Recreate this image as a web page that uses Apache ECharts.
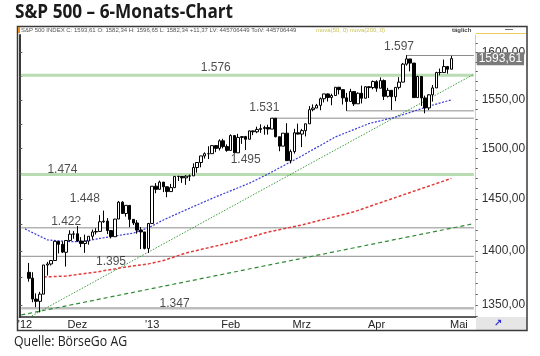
<!DOCTYPE html>
<html><head><meta charset="utf-8">
<script src="https://cdn.jsdelivr.net/npm/echarts@6/dist/echarts.min.js"></script>
<style>html,body{margin:0;padding:0;background:#fff}#c{width:540px;height:356px}</style>
</head><body><div id="c"></div>
<script>
// ---------- DATA ----------
const dates = ['2012-11-09','2012-11-12','2012-11-13','2012-11-14','2012-11-15','2012-11-16','2012-11-19','2012-11-20','2012-11-21','2012-11-23','2012-11-26','2012-11-27','2012-11-28','2012-11-29','2012-11-30',
'2012-12-03','2012-12-04','2012-12-05','2012-12-06','2012-12-07','2012-12-10','2012-12-11','2012-12-12','2012-12-13','2012-12-14','2012-12-17','2012-12-18','2012-12-19','2012-12-20','2012-12-21','2012-12-24','2012-12-26','2012-12-27','2012-12-28','2012-12-31',
'2013-01-02','2013-01-03','2013-01-04','2013-01-07','2013-01-08','2013-01-09','2013-01-10','2013-01-11','2013-01-14','2013-01-15','2013-01-16','2013-01-17','2013-01-18','2013-01-22','2013-01-23','2013-01-24','2013-01-25','2013-01-28','2013-01-29','2013-01-30','2013-01-31',
'2013-02-01','2013-02-04','2013-02-05','2013-02-06','2013-02-07','2013-02-08','2013-02-11','2013-02-12','2013-02-13','2013-02-14','2013-02-15','2013-02-19','2013-02-20','2013-02-21','2013-02-22','2013-02-25','2013-02-26','2013-02-27','2013-02-28',
'2013-03-01','2013-03-04','2013-03-05','2013-03-06','2013-03-07','2013-03-08','2013-03-11','2013-03-12','2013-03-13','2013-03-14','2013-03-15','2013-03-18','2013-03-19','2013-03-20','2013-03-21','2013-03-22','2013-03-25','2013-03-26','2013-03-27','2013-03-28',
'2013-04-01','2013-04-02','2013-04-03','2013-04-04','2013-04-05','2013-04-08','2013-04-09','2013-04-10','2013-04-11','2013-04-12','2013-04-15','2013-04-16','2013-04-17','2013-04-18','2013-04-19','2013-04-22','2013-04-23','2013-04-24','2013-04-25','2013-04-26','2013-04-29',
'2013-04-30','2013-05-01','2013-05-02','2013-05-03','2013-05-06','2013-05-07'];

const opens = [null,null,1380.03,1374.64,1355.41,1353.36,1359.88,1386.82,1387.79,1391.03,1409.15,1406.29,1398.77,1409.96,1415.95,
1416.34,1409.46,1407.05,1409.43,1413.95,1418.07,1418.55,1427.84,1428.48,1419.45,1413.54,1430.47,1446.79,1435.81,1443.67,1430.15,1426.66,1419.83,1418.10,1402.43,
1426.19,1462.42,1459.37,1466.47,1461.89,1457.15,1461.02,1472.12,1472.05,1470.67,1472.33,1472.63,1480.95,1485.98,1492.56,1494.81,1494.82,1502.96,1500.18,1507.84,1501.96,
1498.11,1513.17,1495.71,1511.29,1512.12,1509.39,1517.93,1517.01,1519.43,1520.33,1521.38,1519.79,1530.94,1511.95,1502.42,1515.60,1487.85,1496.94,1515.99,
1514.68,1518.20,1525.20,1539.79,1541.46,1544.26,1551.15,1556.22,1552.48,1554.52,1563.21,1560.70,1552.10,1548.34,1558.71,1545.90,1556.89,1551.69,1563.75,1562.86,
1569.18,1562.17,1570.25,1553.69,1559.98,1553.26,1563.11,1568.61,1587.73,1593.30,1588.84,1552.36,1574.57,1552.03,1541.61,1555.25,1562.50,1578.78,1578.78,1585.16,1582.34,
null,null,null,null,null,null];
const highs = [null,null,1388.81,1380.13,1360.62,1362.03,1386.89,1389.77,1391.25,1409.16,1409.15,1409.01,1410.00,1419.70,1418.86,
1423.73,1413.14,1415.56,1413.95,1420.34,1421.64,1434.27,1438.59,1431.36,1419.45,1430.67,1448.00,1447.75,1443.70,1443.67,1430.15,1429.42,1422.80,1418.10,1426.74,
1462.43,1465.47,1467.94,1466.47,1461.89,1464.73,1472.30,1472.75,1472.05,1473.31,1473.96,1485.16,1485.98,1492.56,1496.13,1502.27,1503.26,1503.23,1509.35,1509.94,1504.19,
1514.41,1513.17,1514.96,1512.53,1512.90,1518.31,1518.31,1522.29,1524.69,1523.14,1524.24,1530.94,1530.94,1511.95,1515.64,1525.84,1498.99,1520.08,1525.34,
1519.99,1525.27,1543.47,1545.25,1545.78,1552.48,1556.27,1556.77,1556.39,1563.32,1563.62,1560.70,1557.25,1561.56,1558.71,1557.74,1564.91,1563.95,1564.07,1570.28,
1570.57,1573.66,1571.47,1562.60,1559.98,1563.07,1573.89,1589.07,1597.35,1593.30,1588.84,1575.35,1574.57,1554.38,1555.89,1565.55,1579.58,1583.00,1592.64,1585.78,1596.65,
null,null,null,null,null,null];
const lows = [null,null,1371.39,1352.50,1348.05,1343.35,1359.88,1377.04,1386.39,1391.03,1397.68,1398.03,1385.43,1409.04,1411.63,
1408.46,1403.65,1398.23,1405.93,1410.90,1415.64,1418.55,1426.76,1416.00,1411.88,1413.54,1430.47,1435.80,1432.82,1422.58,1424.66,1416.43,1401.80,1401.58,1398.11,
1426.19,1455.53,1458.99,1456.62,1451.64,1457.15,1461.02,1467.58,1465.69,1463.76,1467.60,1472.63,1475.81,1481.16,1489.90,1489.46,1494.82,1496.33,1498.09,1500.11,1496.76,
1498.11,1495.02,1495.71,1504.71,1498.49,1509.39,1513.61,1515.61,1515.93,1514.02,1514.14,1519.79,1511.41,1497.29,1502.42,1487.85,1485.01,1494.88,1514.46,
1501.48,1512.29,1525.20,1538.11,1541.46,1539.19,1547.36,1548.24,1544.37,1554.52,1555.74,1545.13,1538.57,1548.34,1543.55,1545.90,1546.22,1551.69,1551.90,1561.08,
1558.47,1562.17,1549.80,1552.52,1539.50,1548.63,1560.92,1568.61,1586.17,1579.97,1552.28,1552.36,1543.69,1536.03,1539.40,1548.19,1562.50,1575.80,1578.78,1577.56,1582.34,
null,null,null,null,null,null];
const closes = [null,null,1374.53,1355.49,1353.33,1359.88,1386.89,1387.81,1391.03,1409.15,1406.29,1398.94,1409.93,1415.95,1416.18,
1409.46,1407.05,1409.28,1413.94,1418.07,1418.55,1427.84,1428.48,1419.45,1413.58,1430.36,1446.79,1435.81,1443.69,1430.15,1426.66,1419.83,1418.10,1402.43,1426.19,
1462.42,1459.37,1466.47,1461.89,1457.15,1461.02,1472.12,1472.05,1470.68,1472.34,1472.63,1480.94,1485.98,1492.56,1494.81,1494.82,1502.96,1500.18,1507.84,1501.96,1498.11,
1513.17,1495.71,1511.29,1512.12,1509.39,1517.93,1517.01,1519.43,1520.33,1521.38,1519.79,1530.94,1511.95,1502.42,1515.60,1487.85,1496.94,1515.99,1514.68,
1518.20,1525.20,1539.79,1541.46,1544.26,1551.18,1556.22,1552.48,1554.52,1563.23,1560.70,1552.10,1548.34,1558.71,1545.80,1556.89,1551.69,1563.77,1562.85,1569.19,
1562.17,1570.25,1553.69,1559.98,1553.28,1563.07,1568.61,1587.73,1593.37,1588.85,1552.36,1574.57,1552.01,1541.61,1555.25,1562.50,1578.78,1578.79,1585.16,1582.24,1593.61,
null,null,null,null,null,null];

// 50-day moving average (blue)
const ma50Dates  = ['2012-11-12','2012-11-20','2012-11-28','2012-12-04','2012-12-11','2012-12-24','2012-12-31','2013-01-07','2013-01-15','2013-01-28','2013-02-08','2013-02-15','2013-03-01','2013-03-14','2013-03-27','2013-04-08','2013-04-16','2013-04-19','2013-04-29'];
const ma50Values = [1421,1410.5,1409,1408.7,1411.9,1417,1422,1429.6,1439.3,1452,1465.4,1474.5,1492.6,1511.8,1525.5,1532,1539.5,1543.5,1550];
// 200-day moving average (red)
const ma200Dates  = ['2012-11-19','2012-11-28','2012-12-10','2012-12-20','2012-12-31','2013-01-07','2013-01-15','2013-02-04','2013-02-15','2013-03-01','2013-03-21','2013-04-10','2013-04-29'];
const ma200Values = [1375.7,1376.6,1380.3,1385,1387.9,1391,1398.1,1408.8,1418,1424.7,1437.5,1453.8,1470.2];

// trend lines [start, end]
const trendDates = ['2012-11-09','2013-05-07'];
const trendSteep = [1335, 1577];
const trendFlat  = [1341, 1426];

// horizontal levels
const levelValues = [1597, 1576, 1538.57, 1531, 1474, 1422, 1395, 1347];
const levelStarts = ['2013-04-11','2012-11-09','2013-03-19','2013-02-19','2012-11-09','2012-11-09','2012-11-09','2012-11-09'];
const levelKinds  = ['gray','green','gray','gray','green','gray','gray','light'];

// level annotations
const annoText   = ['1.597','1.576','1.531','1.495','1.474','1.448','1.422','1.395','1.347'];
const annoDates  = ['2013-04-09','2013-01-28','2013-02-14','2013-02-07','2012-11-27','2012-12-05','2012-11-28','2012-12-14','2013-01-10'];
const annoValues = [1606.7,1584.1,1541.7,1488.6,1478.6,1450.5,1428.1,1390.1,1351.4];

// axis ticks
const xTickDates  = ['2012-11-12','2012-12-03','2013-01-02','2013-02-01','2013-03-01','2013-04-01','2013-05-01'];
const xTickLabels = ["'12",'Dez',"'13",'Feb','Mrz','Apr','Mai'];
const yTickValues = [1350,1400,1450,1500,1550,1600];
const yMinorTicks = [1340,1350,1360,1370,1380,1390,1400,1410,1420,1430,1440,1450,1460,1470,1480,1490,1500,1510,1520,1530,1540,1550,1560,1570,1580,1590,1600,1610];
const yLeftTicks  = [1350,1375,1400,1425,1450,1475,1500,1525,1550,1575,1600];
const lastClose = 1593.61;

// ---------- CHART ----------
const chart = echarts.init(document.getElementById('c'), null, {renderer: 'canvas'});
const FONT = '"Liberation Sans", Arial, sans-serif';
const fmtNum = v => (Math.round(v * 100) / 100).toFixed(2).replace('.', ',');
const candleData = dates.map((d, i) => opens[i] == null ? '-' : [opens[i], closes[i], lows[i], highs[i]]);
const lastDate = dates[dates.length - 1];

const levelStyle = {
  gray:  {color: '#8c8c8c', width: 1},
  green: {color: '#b9dcb2', width: 3},
  light: {color: '#bdbdbd', width: 2.5}
};

const series = [];
levelValues.forEach((v, i) => {
  const st = levelStyle[levelKinds[i]];
  series.push({
    type: 'line', yAxisIndex: 0, silent: true, symbol: 'none', animation: false, z: 1,
    lineStyle: {color: st.color, width: st.width},
    data: [[levelStarts[i], v], [lastDate, v]]
  });
});
series.push({
  type: 'line', yAxisIndex: 0, silent: true, symbol: 'none', animation: false, z: 2,
  lineStyle: {color: '#3c9b3c', width: 1, type: [1.5, 1.5]},
  data: [[trendDates[0], trendSteep[0]], [trendDates[1], trendSteep[1]]]
});
series.push({
  type: 'line', yAxisIndex: 0, silent: true, symbol: 'none', animation: false, z: 2,
  lineStyle: {color: '#2f8a34', width: 1.2, type: [4, 3]},
  data: [[trendDates[0], trendFlat[0]], [trendDates[1], trendFlat[1]]]
});
series.push({
  type: 'line', yAxisIndex: 0, silent: true, symbol: 'none', animation: false, z: 2,
  lineStyle: {color: '#e23b3b', width: 1.5, type: [3, 2]},
  data: ma200Dates.map((d, i) => [d, ma200Values[i]])
});
series.push({
  type: 'line', yAxisIndex: 0, silent: true, symbol: 'none', animation: false, z: 2,
  lineStyle: {color: '#3a3ad6', width: 1.2, type: [2, 1.5]},
  data: ma50Dates.map((d, i) => [d, ma50Values[i]])
});
series.push({
  type: 'candlestick', yAxisIndex: 0, silent: true, animation: false, z: 3,
  barWidth: 3,
  itemStyle: {color: '#ffffff', color0: '#000000', borderColor: '#000000', borderColor0: '#000000', borderColorDoji: '#000000', borderWidth: 1},
  data: candleData
});
// last-price tag on the right axis
series.push({
  type: 'line', yAxisIndex: 0, silent: true, symbol: 'none', animation: false, z: 5,
  lineStyle: {color: 'rgba(0,0,0,0)', width: 0},
  data: [],
  markLine: {
    silent: true, symbol: 'none', animation: false,
    lineStyle: {color: 'rgba(0,0,0,0)', width: 0, type: 'solid'},
    label: {show: true, position: 'end', distance: 1, formatter: () => fmtNum(lastClose),
      backgroundColor: '#7a7a7a', color: '#ffffff', fontSize: 12, fontFamily: FONT, padding: [1, 2, 0, 2]},
    data: [{yAxis: lastClose}]
  }
});
series.push({
  type: 'scatter', yAxisIndex: 0, silent: true, symbolSize: 0, animation: false, z: 4,
  label: {show: true, position: 'inside', formatter: p => annoText[p.dataIndex], color: '#1e1e1e', fontSize: 12, fontFamily: FONT},
  data: annoDates.map((d, i) => [d, annoValues[i]])
});

const header = 'S&P 500 INDEX C: 1593,61 O: 1582,34 H: 1596,65 L: 1582,34 +11,37 LV: 445706449 TotV: 445706449';

chart.setOption({
  backgroundColor: '#ffffff',
  animation: false,
  grid: {left: 19.4, right: 64.3, top: 35, bottom: 39.3, containLabel: false},
  xAxis: {
    type: 'category', data: dates, boundaryGap: true,
    axisLine: {show: true, lineStyle: {color: '#2a2a2a', width: 1.5}},
    axisTick: {show: false},
    axisLabel: {
      interval: (i, v) => xTickDates.indexOf(v) >= 0,
      formatter: v => xTickLabels[xTickDates.indexOf(v)],
      fontSize: 11, color: '#222', fontFamily: FONT, margin: 3
    },
    splitLine: {show: false}
  },
  yAxis: [{
    type: 'log', logBase: 10, position: 'right', min: 1339.4, max: 1619.2,
    axisLine: {show: true, lineStyle: {color: '#f0cf5e', width: 1}},
    axisTick: {show: true, customValues: yMinorTicks, length: 2, lineStyle: {color: '#555'}},
    axisLabel: {show: true, customValues: yTickValues, formatter: v => fmtNum(v), fontSize: 12, color: '#333', fontFamily: FONT, margin: 6},
    splitLine: {show: false}
  }, {
    type: 'log', logBase: 10, position: 'left', min: 1339.4, max: 1619.2,
    axisLine: {show: true, lineStyle: {color: '#3a3a3a', width: 2}},
    axisTick: {show: true, inside: true, customValues: yLeftTicks, length: 3, lineStyle: {color: '#555'}},
    axisLabel: {show: false},
    splitLine: {show: false}
  }],
  series: series,
  graphic: [
    {type: 'text', x: 15, y: 2, scaleX: 0.86, style: {text: 'S&P 500 – 6-Monats-Chart', font: 'bold 20px "Open Sans", sans-serif', fill: '#1a1a1a'}},
    {type: 'rect', shape: {x: 17.5, y: 26.5, width: 509.5, height: 304}, style: {fill: 'none', stroke: '#3a3a3a', lineWidth: 1.5}, z: 10},
    {type: 'rect', shape: {x: 476, y: 317, width: 51, height: 13.5}, style: {fill: '#e6e6e6'}, z: 9},
    {type: 'text', x: 494, y: 318, style: {text: '↗', font: 'bold 10px "DejaVu Sans"', fill: '#2a2ad0'}, z: 11},
    {type: 'line', shape: {x1: 476, y1: 33.5, x2: 526, y2: 33.5}, style: {stroke: '#f0cf5e', lineWidth: 1}, z: 9},
    {type: 'rect', shape: {x: 18, y: 27, width: 2, height: 6}, style: {fill: '#f08a1a'}, z: 11},
    {type: 'text', x: 21, y: 27.5, style: {text: header, font: '6px "Liberation Sans", Arial', fill: '#555'}, z: 11},
    {type: 'text', x: 316, y: 27.5, style: {text: 'mova(50, 0) mova(200, 0)', font: '6px "Liberation Sans", Arial', fill: '#c9c35a'}, z: 11},
    {type: 'text', x: 452, y: 27, style: {text: 'täglich', font: 'bold 6px "Liberation Sans", Arial', fill: '#444'}, z: 11},
    {type: 'line', shape: {x1: 505, y1: 29.5, x2: 513, y2: 29.5}, style: {stroke: '#777', lineWidth: 1}, z: 11},
    {type: 'text', x: 14, y: 335, scaleX: 0.88, style: {text: 'Quelle: BörseGo AG', font: '14px "Open Sans", sans-serif', fill: '#222'}}
  ]
});
</script></body></html>
